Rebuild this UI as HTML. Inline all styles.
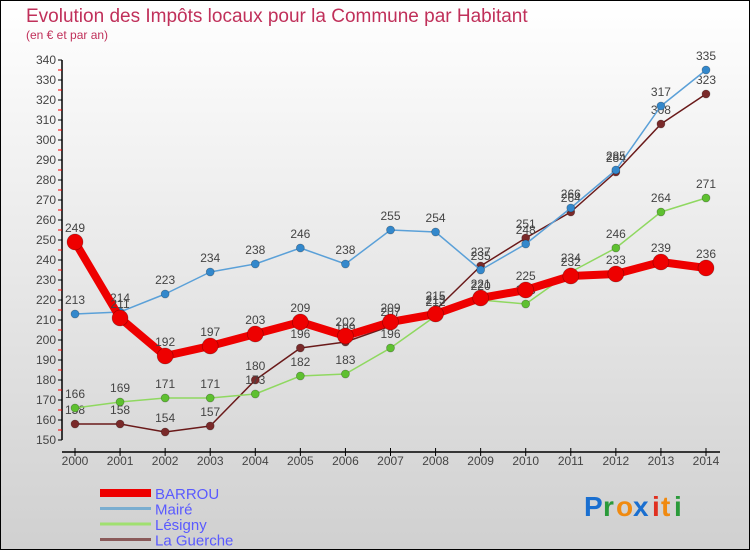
<!DOCTYPE html>
<html><head><meta charset="utf-8"><style>
body{margin:0;width:750px;height:550px;overflow:hidden;font-family:"Liberation Sans",sans-serif}
</style></head><body>
<svg id="c" width="750" height="550" xmlns="http://www.w3.org/2000/svg">
<defs><linearGradient id="bg" x1="0" y1="0" x2="0" y2="1"><stop offset="0" stop-color="#ffffff"/><stop offset="1" stop-color="#d0d0d0"/></linearGradient></defs>
<rect x="0.5" y="0.5" width="749" height="549" fill="url(#bg)" stroke="#000"/>
<text x="26" y="22" font-size="19" fill="#c0305a">Evolution des Impôts locaux pour la Commune par Habitant</text>
<text x="26" y="39" font-size="12" fill="#c0305a">(en € et par an)</text>
<g id="axes"></g><g id="series"></g><g id="legend"></g>
<g font-size="28" font-weight="bold">
<text x="584" y="516" fill="#1a6fd0">P</text><text x="603" y="516" fill="#2a9a3a">r</text><text x="616" y="516" fill="#f08a10">o</text><text x="633" y="516" fill="#1a6fd0">x</text><text x="652" y="516" fill="#e03020">i</text><text x="661" y="516" fill="#f08a10">t</text><text x="674" y="516" fill="#2a9a3a">i</text>
</g>
</svg>
<script>
const years=[2000,2001,2002,2003,2004,2005,2006,2007,2008,2009,2010,2011,2012,2013,2014];
const barrou=[249,211,192,197,203,209,202,209,213,221,225,232,233,239,236];
const maire=[213,214,223,234,238,246,238,255,254,235,248,266,285,317,335];
const lesigny=[166,169,171,171,173,182,183,196,212,220,218,234,246,264,271];
const guerche=[158,158,154,157,180,196,199,207,215,237,251,264,284,308,323];
const yTicks=[150,160,170,180,190,200,210,220,230,240,250,260,270,280,290,300,310,320,330,340];
const NS="http://www.w3.org/2000/svg";
const X=i=>75+i*(706-75)/(years.length-1);
const Y=v=>440-(v-150)*(380/190);
function mk(t,a,p){const e=document.createElementNS(NS,t);for(const k in a)e.setAttribute(k,a[k]);p.appendChild(e);return e;}
const ax=document.getElementById('axes');
let e=mk('line',{x1:62,y1:Y(340),x2:62,y2:Y(150),stroke:'#000','stroke-width':1.5},ax);


e=mk('line',{x1:62,y1:452,x2:720,y2:452,stroke:'#000','stroke-width':1.5},ax);


yTicks.forEach((v,i)=>{
 mk('line',{x1:58,y1:Y(v),x2:62,y2:Y(v),stroke:'#000'},ax);
 if(i<yTicks.length-1)mk('line',{x1:58,y1:Y(v+5),x2:62,y2:Y(v+5),stroke:'#e00'},ax);
 const t=mk('text',{x:56,y:Y(v)+4,'font-size':12,fill:'#444','text-anchor':'end'},ax);t.textContent=v;
 
 
});
years.forEach((y,i)=>{
 mk('line',{x1:X(i),y1:448,x2:X(i),y2:456,stroke:'#000'},ax);
 const t=mk('text',{x:X(i),y:465,'font-size':12,fill:'#444','text-anchor':'middle'},ax);t.textContent=y;
 
 
});
const S=document.getElementById('series');
const defs=[[guerche,'#6a1a1a','#7a2a2a',1.5,4,'la-guerche'],[lesigny,'#8fd860','#5ec030',1.5,4,'lesigny'],[maire,'#5aa0d8','#3388cc',1.5,4,'maire'],[barrou,'#ee0000','#ee0000',8,8,'barrou']];
defs.forEach(([d,lc,pc,w,r,n])=>{
 const g=mk('g',{},S);
 
 
 const p=mk('polyline',{points:d.map((v,i)=>X(i)+','+Y(v)).join(' '),fill:'none',stroke:lc,'stroke-width':w,'stroke-linejoin':'round'},g);
 
 
 d.forEach((v,i)=>{
  const c=mk('circle',{cx:X(i),cy:Y(v),r:r,fill:pc,stroke:'rgba(0,0,0,0.3)','stroke-width':0.7},g);
  
  
  const t=mk('text',{x:X(i),y:Y(v)-10,'font-size':12,fill:'#444','text-anchor':'middle'},g);t.textContent=v;
  
  
 });
});
const L=document.getElementById('legend');
[['BARROU','#ee0000',8],['Mairé','#7aaed0',3],['Lésigny','#a0e070',3],['La Guerche','#8a5a5a',3]].forEach(([n,c,w],i)=>{
 const y=493+i*15.5;
 const g=mk('g',{},L);
 
 
 mk('line',{x1:100,y1:y,x2:151,y2:y,stroke:c,'stroke-width':w},g);
 const t=mk('text',{x:155,y:y+6,'font-size':15,fill:'#5a5aff'},g);t.textContent=n;
});
</script>
</body></html>
